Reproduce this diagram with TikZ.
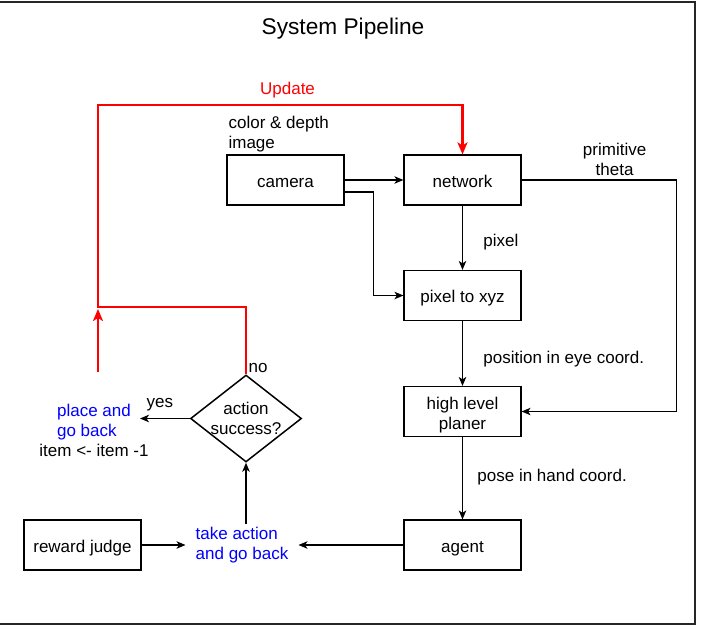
\documentclass[tikz,border=0pt]{standalone}
\usepackage{fontspec}
\setmainfont{Liberation Sans}
\usetikzlibrary{arrows.meta}
\usetikzlibrary{shapes.geometric}
\usetikzlibrary{positioning}
\tikzset{
  block/.style={draw,line width=1.2pt,minimum width=117pt,minimum height=50pt,align=center,inner sep=2pt,
    text height=15pt,text depth=1pt},
  flow/.style={line width=1.2pt,-{Stealth[length=9pt,width=7.5pt,inset=2.5pt]}},
  update/.style={red,line width=2.2pt},
  bigtip/.style={-{Stealth[length=12pt,width=10pt,inset=3pt]}},
}

\begin{document}
\begin{tikzpicture}[x=1pt,y=-1pt,font=\fontsize{17}{20}\selectfont]
      \useasboundingbox (0,0) rectangle (709,627);
      \draw[line width=1.6pt,black!85] (0,2) -- (695,2) -- (695,624) -- (0,624);
      \node[font=\fontsize{22.7}{26}\selectfont] (title) at (343,28.5) {System Pipeline};

      \node[block] (camera) at (285.5,180) {camera};
      \node[block] (network) at (462.5,180) {network};
      \node[block] (xyz) at (462.5,295.5) {pixel to xyz};
      \node[block,text height=37pt,text depth=1pt] (planer) at (462.5,411.5) {high level\\planer};
      \node[block] (agent) at (462.5,545) {agent};
      \node[block] (reward) at (82.5,545) {reward judge};
      \node[draw,diamond,line width=1.5pt,minimum width=111pt,minimum height=87pt,inner sep=0pt,
            label={[align=center]center:action\\success?}] (check) at (246,418.5) {};
      \node[blue,align=left,inner xsep=10pt] (take) at (242,545) {take action\\and go back};
      \node[align=center] (place) at (94,429.5) {\textcolor{blue}{\begin{tabular}[b]{@{}l@{}}place and\\go back\end{tabular}}\\item <- item -1};
      \node[anchor=south west,inner sep=2pt,align=left] (caption) at (camera.north west) {color \& depth\\image};
      \node[anchor=south west,inner sep=1.5pt] (no) at ([xshift=1pt]check.north) {no};

      \coordinate (yesend) at (140,418.5);
      \coordinate (redstart) at (98,372);
      \coordinate (loopA) at (98,307);
      \coordinate (loopB) at (98,105);

      % main chain
      \path[flow] (camera) edge (network);
      \path[flow] (network) edge node[right,xshift=17pt,pos=0.56] {pixel} (xyz);
      \path[flow] (xyz) edge node[right,xshift=17pt,pos=0.58] {position in eye coord.} (planer);
      \path[flow] (planer) edge node[right,xshift=11pt,pos=0.48] {pose in hand coord.} (agent);
      \draw[flow] ([yshift=-12pt]camera.east) -- ++(29,0) |- (xyz.west);
      \draw[flow] (network.east) -- node[above,pos=0.6,align=center] {primitive\\theta} ++(155,0) |- (planer.east);

      % action loop
      \draw[flow] (agent.west) -- (take.east |- agent.west);
      \draw[flow] (reward.east) -- (take.west |- reward.east);
      \draw[flow] (check.south |- take.north) -- (check.south);
      \draw[flow] (check.west) -- node[above,pos=0.6,yshift=4pt] {yes} (yesend);

      % update loop
      \draw[update,bigtip] (check.north) |- (loopA) -- (loopB) -| node[pos=0.26,above,yshift=3pt] {Update} (network.north);
      \draw[update,bigtip,shorten >=2pt] (redstart) -- (loopA);
\end{tikzpicture}
\end{document}
